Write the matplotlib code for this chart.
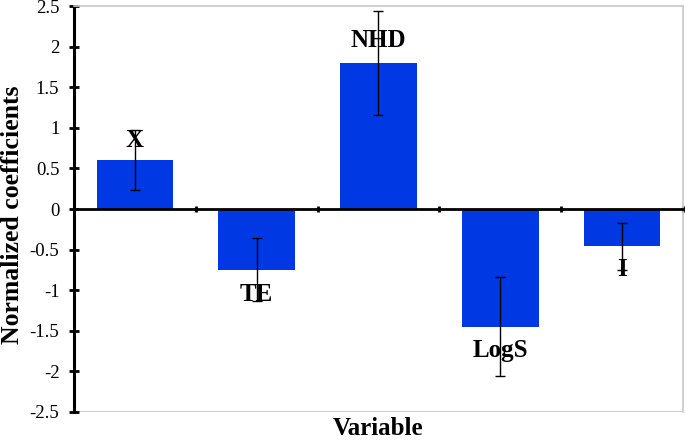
import matplotlib.pyplot as plt
import numpy as np

plt.rcParams['font.family'] = ['Liberation Serif', 'DejaVu Serif']
plt.rcParams['axes.unicode_minus'] = False

# dados
variaveis = ['X', 'TE', 'NHD', 'LogS', 'I']
coeficientes = [0.60, -0.75, 1.80, -1.45, -0.46]
erros = [0.37, 0.39, 0.64, 0.61, 0.29]
# posição vertical dos rótulos
pos_rotulos = [0.84, -1.05, 2.08, -1.74, -0.75]

cor_barra = '#0038e3'

fig = plt.figure(figsize=(6.85, 4.4), dpi=100)
ax = fig.add_axes([0.108, 0.064, 0.889, 0.922])

x = np.arange(len(variaveis))
ax.bar(x, coeficientes, width=0.63, color=cor_barra, zorder=2)
ax.errorbar(x, coeficientes, yerr=erros, fmt='none', ecolor='black',
            elinewidth=1, capsize=3.5, capthick=1, zorder=3)

# rótulos das variáveis perto das barras
for xi, yi, nome in zip(x, pos_rotulos, variaveis):
    ax.text(xi, yi, nome, ha='center', va='center', fontsize=18,
            fontweight='bold', zorder=4)

ax.set_xlim(-0.5, len(variaveis) - 0.5)
ax.set_ylim(-2.5, 2.5)
ax.set_yticks(np.arange(-2.5, 2.51, 0.5))
ax.set_yticklabels([f'{v:g}' for v in np.arange(-2.5, 2.51, 0.5)])
ax.tick_params(axis='y', direction='inout', length=7, width=2, labelsize=13.5, pad=7)

# eixo x passando pelo zero
ax.spines['bottom'].set_position(('data', 0))
ax.spines['bottom'].set_linewidth(2)
ax.spines['bottom'].set_zorder(5)
ax.set_xticks(np.arange(0.5, len(variaveis), 1))
ax.tick_params(axis='x', direction='inout', length=5, width=2, labelbottom=False)

ax.spines['left'].set_linewidth(2.2)
for lado in ['top', 'right']:
    ax.spines[lado].set_color('#c8c8c8')
    ax.spines[lado].set_linewidth(1.2)
ax.axhline(-2.5, color='#c8c8c8', linewidth=1.2, zorder=1)

ax.text(0.5, -0.012, 'Variable', transform=ax.transAxes, ha='center', va='top',
        fontsize=18, fontweight='bold')
ax.set_ylabel('Normalized coefficients', fontsize=18.5, fontweight='bold')
ax.yaxis.set_label_coords(-0.082, 0.485)

fig.savefig('out.png', dpi=100)
